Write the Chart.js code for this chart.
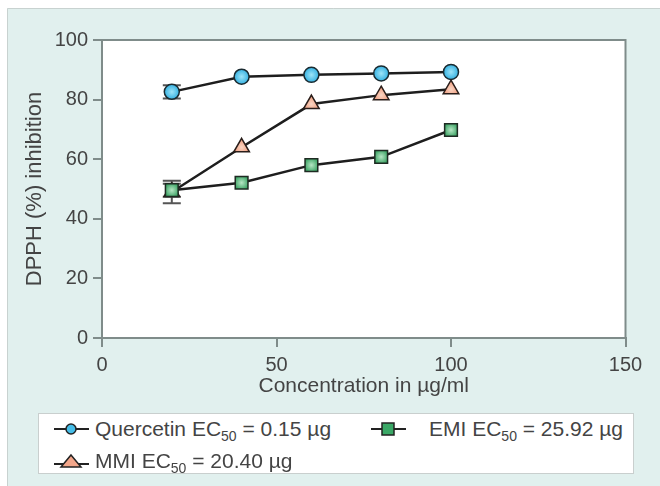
<!DOCTYPE html>
<html>
<head>
<meta charset="utf-8">
<script src="https://cdn.jsdelivr.net/npm/chart.js@4"></script>
<style>
  body { margin: 0; background: #fff; font-family: 'Liberation Sans', Arial, sans-serif; }
  #wrap { position: relative; width: 660px; height: 486px; }
  #chart { position: absolute; left: 0; top: 0; }
  #legend {
    position: absolute; left: 38px; top: 413px; width: 594px; height: 59px;
    background: #fff; border: 1px solid #c9cfce; color: #444; font-size: 21px;
  }
  .item { position: absolute; height: 26px; line-height: 26px; white-space: nowrap; }
  .item svg { position: absolute; left: 0; top: 5px; }
  .item span.txt { position: absolute; top: 0; }
  sub { font-size: 14px; vertical-align: -5px; line-height: 0; }
</style>
</head>
<body>
<div id="wrap">
  <canvas id="chart" width="660" height="486"></canvas>
  <div id="legend">
    <div class="item" style="left:15px; top:2px;">
      <svg width="36" height="16"><line x1="0" y1="8" x2="35" y2="8" stroke="#222" stroke-width="2"/><circle cx="17" cy="8" r="5" fill="#45bde8" stroke="#222" stroke-width="1.5"/></svg>
      <span class="txt" style="left:41px;">Quercetin EC<sub>50</sub> = 0.15 µg</span>
    </div>
    <div class="item" style="left:332px; top:2px;">
      <svg width="36" height="16"><line x1="0" y1="8" x2="35" y2="8" stroke="#222" stroke-width="2"/><rect x="11" y="2" width="12" height="12" fill="#3aa866" stroke="#222" stroke-width="1.5"/></svg>
      <span class="txt" style="left:58px;">EMI EC<sub>50</sub> = 25.92 µg</span>
    </div>
    <div class="item" style="left:15px; top:34px;">
      <svg width="36" height="16"><line x1="0" y1="11" x2="35" y2="11" stroke="#222" stroke-width="2"/><polygon points="17,2 27,14 7,14" fill="#f2a68a" stroke="#222" stroke-width="1.5"/></svg>
      <span class="txt" style="left:41px;">MMI EC<sub>50</sub> = 20.40 µg</span>
    </div>
  </div>
</div>
<script>
// concentrations in µg/ml
const concentrations = [20, 40, 60, 80, 100];

// DPPH % inhibition
const quercetin = [82.6, 87.7, 88.3, 88.8, 89.3];
const mmi = [49.0, 64.0, 78.5, 81.5, 83.5];
const emi = [49.6, 52.1, 58.0, 60.8, 69.8];

// error bars (the others are hidden behind the markers)
const quercetinErr = [2.2, 0, 0, 0, 0];
const mmiErr = [3.8, 0, 0, 0, 0];
const emiErr = [2.2, 0, 0, 0, 0];

const xTicks = [0, 50, 100, 150];
const yTicks = [0, 20, 40, 60, 80, 100];

const TEAL = '#e1f0ee';
const FRAME = '#7f8c8a';
const TEXT = '#444';

function toPoints(values) {
    return concentrations.map((c, i) => ({ x: c, y: values[i] }));
}

// marker fill with a light centre, like the original
function shade(inner, outer, r) {
    return function(c) {
        if (!c.parsed || !c.chart.scales.x) return outer;
        const x = c.chart.scales.x.getPixelForValue(c.parsed.x);
        const y = c.chart.scales.y.getPixelForValue(c.parsed.y);
        if (!isFinite(x) || !isFinite(y)) return outer;
        const g = c.chart.ctx.createRadialGradient(x, y, 0, x, y, r);
        g.addColorStop(0, inner);
        g.addColorStop(1, outer);
        return g;
    };
}

// background: teal panel, white plot area, frame
const panelPlugin = {
    id: 'panel',
    beforeDraw(chart) {
        const ctx = chart.ctx;
        const a = chart.chartArea;
        ctx.save();
        ctx.fillStyle = '#fff';
        ctx.fillRect(0, 0, chart.width, chart.height);
        ctx.fillStyle = TEAL;
        ctx.fillRect(7, 8, chart.width - 7, chart.height - 8);
        ctx.strokeStyle = '#c8d2d0';
        ctx.lineWidth = 1;
        ctx.beginPath();
        ctx.moveTo(7.5, chart.height);
        ctx.lineTo(7.5, 8.5);
        ctx.lineTo(chart.width, 8.5);
        ctx.stroke();
        ctx.fillStyle = '#fff';
        ctx.fillRect(a.left, a.top, a.right - a.left, a.bottom - a.top);
        ctx.restore();
    },
    beforeDatasetsDraw(chart) {
        const ctx = chart.ctx;
        const a = chart.chartArea;
        ctx.save();
        ctx.strokeStyle = FRAME;
        ctx.lineWidth = 2;
        ctx.strokeRect(a.left, a.top, a.right - a.left, a.bottom - a.top);
        ctx.restore();
    }
};

// error bars drawn under the markers
const errorBarPlugin = {
    id: 'errorBars',
    beforeDatasetsDraw(chart) {
        const ctx = chart.ctx;
        const xs = chart.scales.x;
        const ys = chart.scales.y;
        ctx.save();
        ctx.strokeStyle = '#555';
        ctx.lineWidth = 2;
        chart.data.datasets.forEach(ds => {
            ds.data.forEach((p, i) => {
                const e = ds.errors[i];
                if (!e) return;
                const px = xs.getPixelForValue(p.x);
                const top = ys.getPixelForValue(p.y + e);
                const bot = ys.getPixelForValue(p.y - e);
                ctx.beginPath();
                ctx.moveTo(px, top); ctx.lineTo(px, bot);
                ctx.moveTo(px - 9, top); ctx.lineTo(px + 9, top);
                ctx.moveTo(px - 9, bot); ctx.lineTo(px + 9, bot);
                ctx.stroke();
            });
        });
        ctx.restore();
    }
};

const ctx = document.getElementById('chart').getContext('2d');
const chart = new Chart(ctx, {
    type: 'line',
    data: {
        datasets: [
            {
                label: 'EMI',
                data: toPoints(emi),
                errors: emiErr,
                order: 0,
                borderColor: '#1e1e1e',
                borderWidth: 2.5,
                pointStyle: 'rect',
                pointRadius: 9,
                pointBackgroundColor: shade('#b6e6c4', '#2f9c5a', 8),
                pointBorderColor: '#1e2a22',
                pointBorderWidth: 1.5
            },
            {
                label: 'MMI',
                data: toPoints(mmi),
                errors: mmiErr,
                order: 1,
                borderColor: '#1e1e1e',
                borderWidth: 2.5,
                pointStyle: 'triangle',
                pointRadius: 9,
                pointBackgroundColor: shade('#fbd6c4', '#ec9474', 9),
                pointBorderColor: '#2a1e1a',
                pointBorderWidth: 1.5
            },
            {
                label: 'Quercetin',
                data: toPoints(quercetin),
                errors: quercetinErr,
                order: 2,
                borderColor: '#1e1e1e',
                borderWidth: 2.5,
                pointStyle: 'circle',
                pointRadius: 7.5,
                pointBackgroundColor: shade('#9ee4f8', '#2eaee0', 8),
                pointBorderColor: '#1a2a30',
                pointBorderWidth: 1.5
            }
        ]
    },
    options: {
        responsive: false,
        animation: false,
        layout: { padding: { left: 22, top: 40, right: 34.5, bottom: 87 } },
        plugins: {
            legend: { display: false },
            tooltip: { enabled: false }
        },
        scales: {
            x: {
                type: 'linear',
                min: 0,
                max: 150,
                afterBuildTicks: s => { s.ticks = xTicks.map(v => ({ value: v })); },
                afterFit: s => { s.height = 61; },
                grid: { drawOnChartArea: false, drawTicks: true, tickLength: 9, color: FRAME, lineWidth: 2 },
                border: { color: FRAME, width: 2 },
                ticks: { color: TEXT, padding: 6, font: { family: 'Liberation Sans', size: 20 } },
                title: {
                    display: true,
                    text: 'Concentration in µg/ml',
                    color: TEXT,
                    padding: 0,
                    font: { family: 'Liberation Sans', size: 21 }
                }
            },
            y: {
                min: 0,
                max: 100,
                afterBuildTicks: s => { s.ticks = yTicks.map(v => ({ value: v })); },
                afterFit: s => { s.width = 80; },
                grid: { drawOnChartArea: false, drawTicks: true, tickLength: 9, color: FRAME, lineWidth: 2 },
                border: { color: FRAME, width: 2 },
                ticks: { color: TEXT, padding: 5, font: { family: 'Liberation Sans', size: 20 } },
                title: {
                    display: true,
                    text: 'DPPH (%) inhibition',
                    color: TEXT,
                    padding: 0,
                    font: { family: 'Liberation Sans', size: 22 }
                }
            }
        }
    },
    plugins: [panelPlugin, errorBarPlugin]
});
</script>
</body>
</html>
